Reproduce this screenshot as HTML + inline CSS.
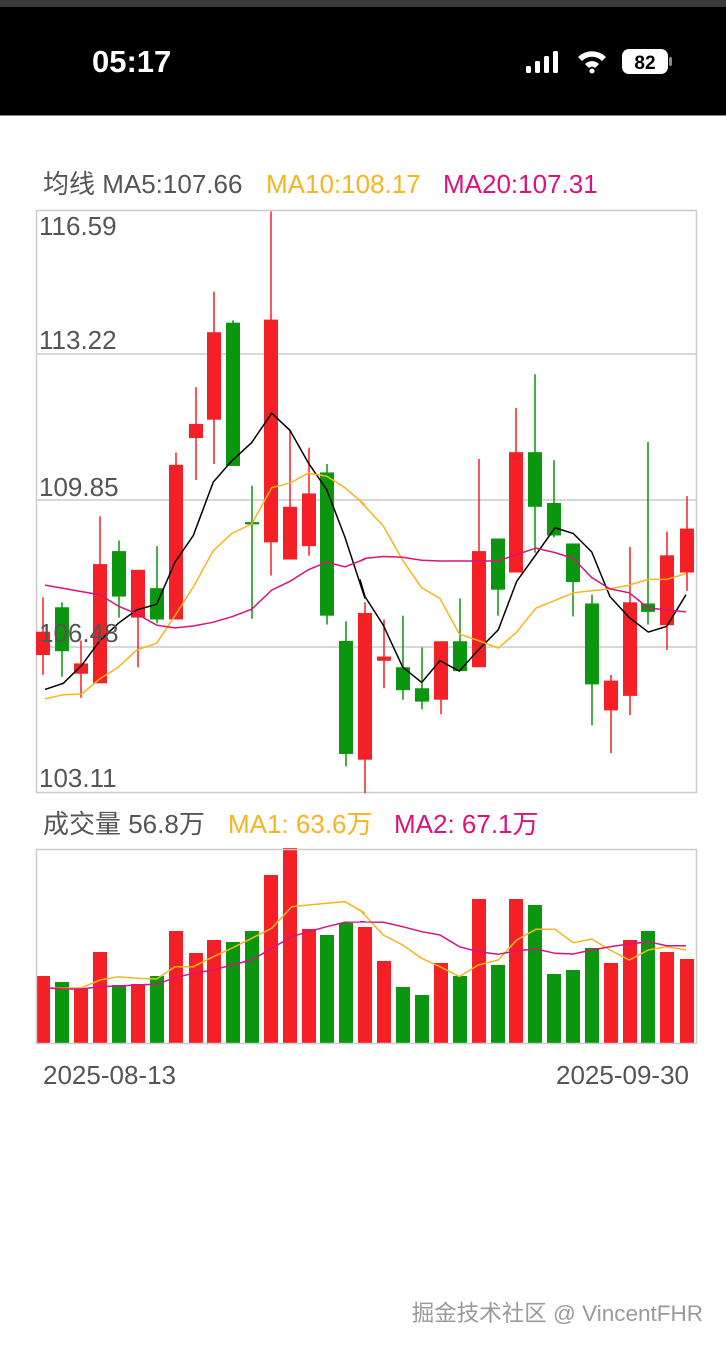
<!DOCTYPE html>
<html><head><meta charset="utf-8"><style>
html,body{margin:0;padding:0;width:726px;height:1350px;background:#fff;overflow:hidden}
svg{display:block}
text{font-family:"Liberation Sans","Noto Sans CJK SC",sans-serif}
</style></head><body>
<svg width="726" height="1350" viewBox="0 0 726 1350" xmlns="http://www.w3.org/2000/svg">
<rect x="0" y="0" width="726" height="115" fill="#000"/>
<rect x="0" y="0" width="726" height="7" fill="#3a3a3a"/>
<rect x="0" y="115" width="726" height="1" fill="#888"/>
<text x="92" y="72" font-size="31" font-weight="bold" fill="#fff">05:17</text>
<g fill="#fff">
<rect x="526" y="66" width="5" height="7" rx="1.5"/><rect x="535" y="61" width="5" height="12" rx="1.5"/><rect x="544" y="56" width="5" height="17" rx="1.5"/><rect x="553" y="51" width="5" height="22" rx="1.5"/>
<path d="M578 57 A20 20 0 0 1 606 57 L602 61 A14 14 0 0 0 582 61 Z"/>
<path d="M585 64 A10 10 0 0 1 599 64 L595 68 A4 4 0 0 0 589 68 Z"/>
<circle cx="592" cy="71" r="2.5"/>
<rect x="622" y="49" width="46" height="25" rx="7"/>
<rect x="669" y="57" width="3" height="9" rx="1.5" fill="#888"/>
</g>
<text x="645" y="69" font-size="19" font-weight="bold" fill="#000" text-anchor="middle">82</text>

<text y="193" font-size="26" fill="#555"><tspan x="43">均线 MA5:107.66</tspan><tspan x="266" fill="#f6b520">MA10:108.17</tspan><tspan x="443" fill="#d8137e">MA20:107.31</tspan></text>

<rect x="36.5" y="210.5" width="660" height="582" fill="none" stroke="#ccc" stroke-width="1.5"/>
<g stroke="#ccc" stroke-width="1.5"><line x1="36" y1="354" x2="697" y2="354"/><line x1="36" y1="500" x2="697" y2="500"/><line x1="36" y1="647" x2="697" y2="647"/></g>

<g id="c"></g>
</svg>
<script>
var d=[[43,1037,1240,1127,1188,1],[62,1050,1245,1063,1178,0],[81,1150,1300,1210,1237,1],[100,825,1262,950,1262,1],[119,888,1090,916,1035,0],[138,965,1220,965,1090,1],[157,903,1105,1013,1095,0],[176,658,1095,690,1095,1],[196,487,730,583,620,1],[214,237,688,343,572,1],[233,312,693,318,693,0],[252,745,1093,840,846,0],[271,27,980,310,893,1],[290,600,938,800,938,1],[309,645,928,765,903,1],[327,688,1108,710,1085,0],[346,1100,1480,1151,1447,0],[365,1050,1550,1078,1462,1],[384,1095,1275,1192,1203,1],[403,1085,1305,1220,1280,0],[422,1168,1330,1275,1310,0],[441,1152,1343,1152,1305,1],[460,1040,1230,1152,1230,0],[479,675,1220,916,1220,1],[498,883,1085,883,1017,0],[516,541,972,657,972,1],[535,453,920,657,800,0],[554,678,880,790,875,0],[573,896,1087,896,997,0],[592,1030,1372,1053,1265,0],[611,1240,1445,1255,1333,1],[630,905,1345,1050,1295,1],[648,630,1108,1053,1075,0],[667,865,1175,927,1110,1],[687,772,1020,857,972,1]];
var vt=[976,982,988,952,985,984,976,931,953,940,942,931,875,848,929,935,923,927,961,987,995,963,976,899,965,899,905,974,970,948,963,940,931,952,959];
var R="#f52026",G="#0a960f";
var s='';
function Y(z){return 201.2+z*0.382}
d.forEach(function(c,i){var col=c[5]?R:G;
s+='<line x1="'+c[0]+'" x2="'+c[0]+'" y1="'+Y(c[1])+'" y2="'+Y(c[2])+'" stroke="'+col+'" stroke-width="1.5"/>';
var t=Y(c[3]),b=Y(c[4]);if(b-t<2)b=t+2;
s+='<rect x="'+(c[0]-7)+'" y="'+t+'" width="14" height="'+(b-t)+'" fill="'+col+'"/>';
s+='<rect x="'+(c[0]-7)+'" y="'+vt[i]+'" width="14" height="'+(1043-vt[i])+'" fill="'+col+'"/>';
});
function pl(a,b,ox,oy,sy,col){var p=a.map(function(q){return (ox+q[0]/3).toFixed(1)+','+(oy+q[1]*sy).toFixed(1)});p=p.concat(b.map(function(q){return (360+q[0]/3).toFixed(1)+','+(oy+q[1]*sy).toFixed(1)}));
return '<polyline points="'+p.join(' ')+'" fill="none" stroke="'+col+'" stroke-width="1.5"/>';}
s+=pl([[45,1278],[100,1262],[155,1215],[210,1150],[265,1105],[320,1070],[380,1055],[435,945],[490,875],[550,735],[605,680],[665,632],[725,555],[780,600],[835,685],[890,755],[945,880],[1005,1040]],[[0,990],[15,1035],[70,1110],[128,1220],[185,1260],[240,1203],[298,1230],[355,1175],[415,1122],[470,995],[528,925],[585,855],[640,870],[695,918],[750,1035],[808,1090],[865,1128],[920,1113],[978,1030]],30,201.2,0.382,"#000");
s+=pl([[45,1303],[100,1292],[155,1290],[210,1250],[265,1220],[320,1175],[380,1157],[435,1085],[490,1010],[550,915],[605,870],[665,845],[725,750],[780,738],[835,712],[890,720],[945,750],[1005,795]],[[0,785],[70,850],[128,940],[185,1012],[240,1040],[298,1133],[355,1150],[415,1170],[470,1128],[528,1065],[585,1045],[640,1025],[695,1020],[750,1015],[808,1005],[865,990],[920,990],[978,975]],30,201.2,0.382,"#f6b520");
s+=pl([[45,1005],[155,1022],[210,1030],[265,1060],[320,1080],[380,1110],[435,1117],[490,1112],[550,1102],[605,1088],[665,1068],[725,1018],[780,995],[835,965],[890,945],[945,957],[1005,937]],[[0,942],[15,935],[70,930],[128,932],[185,940],[240,942],[298,942],[355,942],[415,942],[470,925],[528,908],[585,920],[640,935],[695,985],[750,1015],[808,1025],[865,1065],[920,1070],[978,1075]],30,201.2,0.382,"#d8137e");
s+=pl([[45,563],[100,565],[155,563],[210,540],[265,530],[320,535],[380,537],[435,500],[490,500],[550,470],[605,445],[665,415],[725,385],[785,320],[835,315],[890,310],[945,305],[1005,340]],[[0,330],[70,405],[128,435],[185,475],[240,500],[298,530],[355,495],[415,480],[470,420],[528,388],[585,388],[640,428],[695,417],[750,450],[808,480],[865,450],[920,440],[978,450]],30,800,1/3,"#f6b520");
s+=pl([[45,563],[100,567],[155,567],[210,560],[265,558],[320,555],[380,553],[435,533],[490,520],[550,510],[605,495],[665,480],[725,445],[785,410],[835,395],[890,380],[945,367],[1005,365]],[[0,365],[70,367],[128,380],[185,395],[240,405],[298,440],[355,455],[415,463],[470,452],[528,447],[585,460],[640,462],[695,450],[750,440],[808,432],[865,425],[920,437],[978,437]],30,800,1/3,"#d8137e");
s+='<g font-size="26" fill="#555"><text x="39" y="235">116.59</text><text x="39" y="349">113.22</text><text x="39" y="496">109.85</text><text x="39" y="642">106.48</text><text x="39" y="787">103.11</text></g>';
s+='<rect x="36.5" y="849.5" width="660" height="194" fill="none" stroke="#ccc" stroke-width="1.5"/>';
s+='<text y="833" font-size="26" fill="#555"><tspan x="43">成交量 56.8万</tspan><tspan x="228" fill="#f6b520">MA1: 63.6万</tspan><tspan x="394" fill="#d8137e">MA2: 67.1万</tspan></text>';
s+='<text x="43" y="1084" font-size="26" fill="#555">2025-08-13</text><text x="689" y="1084" font-size="26" fill="#555" text-anchor="end">2025-09-30</text>';
s+='<text x="703" y="1321" font-size="22.5" fill="#9a9a9a" text-anchor="end">掘金技术社区 @ VincentFHR</text>';
document.getElementById('c').innerHTML=s;
</script>
</body></html>
